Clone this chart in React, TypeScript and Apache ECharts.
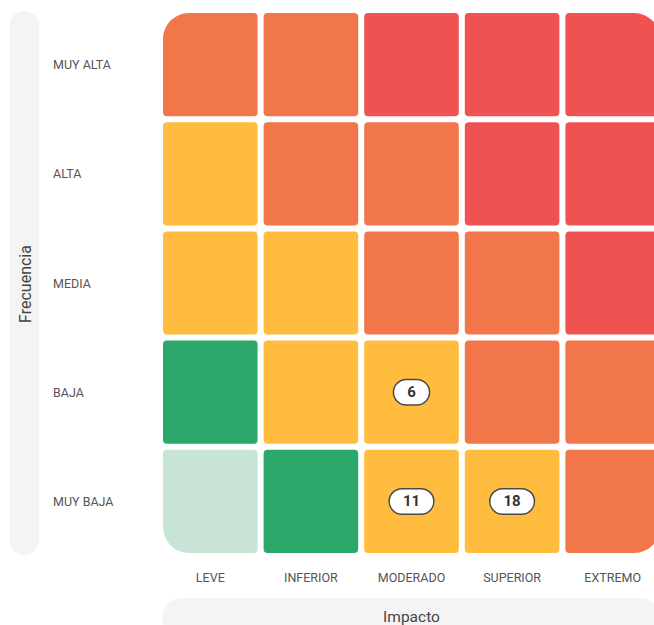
import React, { useEffect, useRef } from "react";
import * as echarts from "echarts";

// Impact categories (x axis, left to right)
const impactCategories = ["LEVE", "INFERIOR", "MODERADO", "SUPERIOR", "EXTREMO"];
// Frequency categories (y axis, bottom to top)
const frequencyCategories = ["MUY BAJA", "BAJA", "MEDIA", "ALTA", "MUY ALTA"];

// Risk level per cell, one row per frequency (bottom to top), one entry per impact
// 0 = muy bajo, 1 = bajo, 2 = medio, 3 = alto, 4 = extremo
const levelsMuyBaja = [0, 1, 2, 2, 3];
const levelsBaja = [1, 2, 2, 3, 3];
const levelsMedia = [2, 2, 3, 3, 4];
const levelsAlta = [2, 3, 3, 4, 4];
const levelsMuyAlta = [3, 3, 4, 4, 4];
const levelRows = [levelsMuyBaja, levelsBaja, levelsMedia, levelsAlta, levelsMuyAlta];

const levelColors = ["#C8E4D6", "#2CA86B", "#FFBC3E", "#F1764A", "#F05252"];

// Markers: counts placed on cells
const markerImpact = ["MODERADO", "MODERADO", "SUPERIOR"];
const markerFrequency = ["BAJA", "MUY BAJA", "MUY BAJA"];
const markerCount = [6, 11, 18];

const FONT = "Roboto";

export default function App() {
  const ref = useRef<HTMLDivElement>(null);

  useEffect(() => {
    if (!ref.current) return;
    const chart = echarts.init(ref.current, null, { renderer: "svg" });

    const cellData: number[][] = [];
    levelRows.forEach((row, yi) => {
      row.forEach((lvl, xi) => cellData.push([xi, yi, lvl]));
    });
    const markerData = markerCount.map((c, i) => [
      impactCategories.indexOf(markerImpact[i]),
      frequencyCategories.indexOf(markerFrequency[i]),
      c,
    ]);

    const nx = impactCategories.length;
    const ny = frequencyCategories.length;
    const GAP = 6;
    const BIG = 26;
    const SMALL = 4;

    chart.setOption({
      animation: false,
      grid: { left: 160, top: 10, width: 503, height: 546, containLabel: false },
      xAxis: {
        type: "category",
        data: impactCategories,
        axisLine: { show: false },
        axisTick: { show: false },
        splitLine: { show: false },
        axisLabel: { color: "#555", fontSize: 12.5, fontFamily: FONT, margin: 15 },
      },
      yAxis: {
        type: "category",
        data: frequencyCategories,
        axisLine: { show: false },
        axisTick: { show: false },
        splitLine: { show: false },
        axisLabel: {
          color: "#555",
          fontSize: 12.5,
          fontFamily: FONT,
          align: "left",
          margin: 107,
        },
      },
      graphic: [
        {
          type: "rect",
          shape: { x: 9.5, y: 11, width: 29.5, height: 544, r: 14.75 },
          style: { fill: "#F4F4F4" },
          silent: true,
        },
        {
          type: "text",
          x: 25,
          y: 284,
          rotation: Math.PI / 2,
          style: {
            text: "Frecuencia",
            align: "center",
            verticalAlign: "middle",
            fontSize: 16,
            fontWeight: "normal",
            fontFamily: FONT,
            fill: "#444",
          },
          silent: true,
        },
        {
          type: "rect",
          shape: { x: 162, y: 598, width: 498, height: 40, r: 20 },
          style: { fill: "#F4F4F4" },
          silent: true,
        },
        {
          type: "text",
          x: 411.5,
          y: 617,
          style: {
            text: "Impacto",
            align: "center",
            verticalAlign: "middle",
            fontSize: 15.5,
            fontWeight: "normal",
            fontFamily: FONT,
            fill: "#444",
          },
          silent: true,
        },
      ],
      series: [
        {
          type: "custom",
          data: cellData,
          silent: true,
          renderItem: (params: any, api: any) => {
            const xi = api.value(0);
            const yi = api.value(1);
            const lvl = api.value(2);
            const c = api.coord([xi, yi]);
            const s = api.size([1, 1]);
            const w = s[0] - GAP;
            const h = s[1] - GAP;
            const r = [SMALL, SMALL, SMALL, SMALL];
            if (xi === 0 && yi === ny - 1) r[0] = BIG;
            if (xi === nx - 1 && yi === ny - 1) r[1] = BIG;
            if (xi === nx - 1 && yi === 0) r[2] = BIG;
            if (xi === 0 && yi === 0) r[3] = BIG;
            return {
              type: "rect",
              shape: { x: c[0] - w / 2, y: c[1] - h / 2, width: w, height: h, r },
              style: { fill: levelColors[lvl] },
            };
          },
        },
        {
          type: "custom",
          data: markerData,
          silent: true,
          z: 5,
          renderItem: (params: any, api: any) => {
            const c = api.coord([api.value(0), api.value(1)]);
            return {
              type: "text",
              x: c[0],
              y: c[1],
              style: {
                text: String(api.value(2)),
                align: "center",
                verticalAlign: "middle",
                fontSize: 15,
                fontWeight: "bold",
                fontFamily: FONT,
                fill: "#333",
                backgroundColor: "#fff",
                borderColor: "#4a4a4a",
                borderWidth: 1.5,
                borderRadius: 12,
                padding: [4, 13],
                lineHeight: 16,
              },
            };
          },
        },
      ],
    });

    return () => chart.dispose();
  }, []);

  return (
    <div
      style={{
        position: "absolute",
        left: 0,
        top: 0,
        width: 654,
        height: 625,
        overflow: "hidden",
      }}
    >
      <div ref={ref} style={{ width: 720, height: 625 }} />
    </div>
  );
}
